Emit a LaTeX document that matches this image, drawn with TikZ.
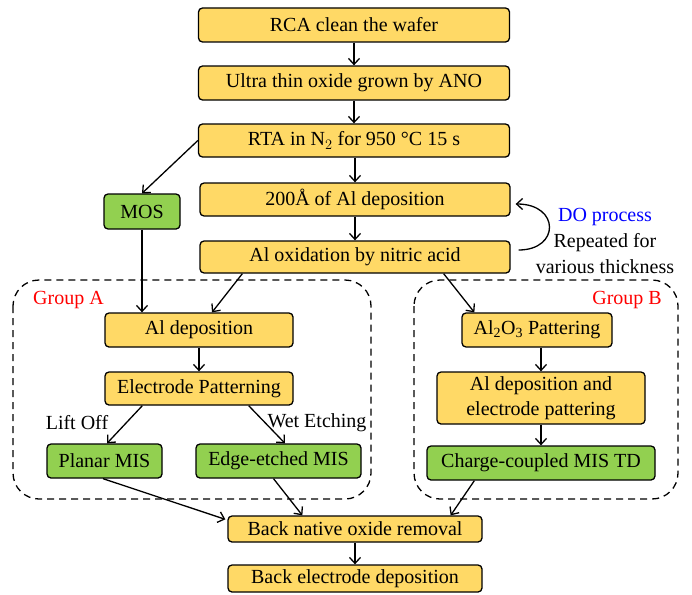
\documentclass[tikz,border=0pt]{standalone}
\usepackage{fontspec}
\setmainfont{Liberation Serif}
\usetikzlibrary{arrows.meta,calc}
\definecolor{boxyel}{RGB}{255,217,102}
\definecolor{boxgrn}{RGB}{146,208,80}
\begin{document}
\begin{tikzpicture}[x=1pt,y=-1pt,
  txt/.style={font=\fontsize{20}{25}\selectfont},
  stepbox/.style={txt,draw=black,line width=1.3pt,rounded corners=4pt,inner sep=0pt,align=center},
  ybox/.style={stepbox,fill=boxyel},
  gbox/.style={stepbox,fill=boxgrn},
  arr/.style={line width=1.3pt,-{Straight Barb[length=6pt,width=11pt,line width=1.3pt]}},
  grp/.style={line width=1.3pt,dash pattern=on 7pt off 5pt,rounded corners=26pt}]
\useasboundingbox (0,0) rectangle (692,594);
% group frames
\draw[grp] (13,280) rectangle (371,499);
\draw[grp] (414,280) rectangle (678,499);
% nodes
\node[ybox,minimum width=311,minimum height=34] (rca) at (354,25) {RCA clean the wafer};
\node[ybox,minimum width=311,minimum height=34] (ano) at (354,83) {Ultra thin oxide grown by ANO};
\node[ybox,minimum width=311,minimum height=33] (rta) at (354,140.5) {RTA in N$_2$ for 950 °C 15 s};
\node[ybox,minimum width=310,minimum height=33] (dep) at (355,199.5) {200Å of Al deposition};
\node[ybox,minimum width=310,minimum height=32] (oxid) at (355,257) {Al oxidation by nitric acid};
\node[gbox,minimum width=76,minimum height=35] (mos) at (142,211.5) {MOS};
\node[ybox,minimum width=188,minimum height=34] (alA) at (199,330) {Al deposition};
\node[ybox,minimum width=188,minimum height=33] (elec) at (199,388.5) {Electrode Patterning};
\node[gbox,minimum width=115,minimum height=34] (planar) at (104.5,461) {Planar MIS};
\node[gbox,minimum width=165,minimum height=34] (edge) at (278.5,461) {Edge-etched MIS};
\node[ybox,minimum width=150,minimum height=34] (alo) at (537,330) {Al\textsubscript{2}O\textsubscript{3} Pattering};
\node[ybox,minimum width=208,minimum height=52] (aldep) at (541,398) {Al deposition and\\electrode pattering};
\node[gbox,minimum width=228,minimum height=34] (ccmis) at (541,463) {Charge-coupled MIS TD};
\node[ybox,minimum width=254,minimum height=26] (back) at (355,529) {Back native oxide removal};
\node[ybox,minimum width=254,minimum height=27] (backel) at (355,578.5) {Back electrode deposition};
% labels
\node[txt,text=red,anchor=west,inner sep=0pt] (ga) at (33,300) {Group A};
\node[txt,text=red,anchor=east,inner sep=0pt] (gb) at (662,300) {Group B};
\node[txt,inner sep=0pt] (lift) at (77,423) {Lift Off};
\node[txt,inner sep=0pt] (wet) at (317,423) {Wet Etching};
\node[txt,text=blue,inner sep=0pt] (dop) at (605,217) {DO process};
\node[txt,inner sep=0pt] (rep) at (605,243) {Repeated for};
\node[txt,inner sep=0pt] (var) at (605,267) {various thickness};
% connectors
\draw[arr] (rca.south) -- (ano.north);
\draw[arr] (ano.south) -- (rta.north);
\draw[arr] (rta.west) -- (mos.north);
\draw[arr] (rta.south -| dep.north) -- (dep.north);
\draw[arr] (dep.south) -- (oxid.north);
\draw[arr] ($(oxid.east)+(8,-7)$) .. controls (560,250) and (560,204) .. ($(dep.east)+(5,4.5)$);
\draw[arr] (mos.south) -- (mos.south |- alA.north);
\draw[arr] ($(oxid.south west)+(43,0)$) -- ($(alA.north)+(13,0)$);
\draw[arr] ($(oxid.south east)+(-67,0)$) -- ($(alo.north west)+(13,0)$);
\draw[arr] (alA.south) -- (elec.north);
\draw[arr] ($(elec.south west)+(38,0)$) -- ($(planar.north)+(2.5,0)$);
\draw[arr] ($(elec.south east)+(-45,0)$) -- ($(edge.north)+(6.5,0)$);
\draw[arr] (alo.south -| aldep.north) -- (aldep.north);
\draw[arr] (aldep.south) -- (ccmis.north);
\draw[arr] ($(planar.south)+(-1.5,0)$) -- ($(back.north west)+(-2,4)$);
\draw[arr] ($(edge.south)+(-5,0)$) -- ($(back.north west)+(75,0)$);
\draw[arr] ($(ccmis.south west)+(48,0)$) -- ($(back.north east)+(-32,0)$);
\draw[arr] (back.south) -- (backel.north);
\end{tikzpicture}
\end{document}
